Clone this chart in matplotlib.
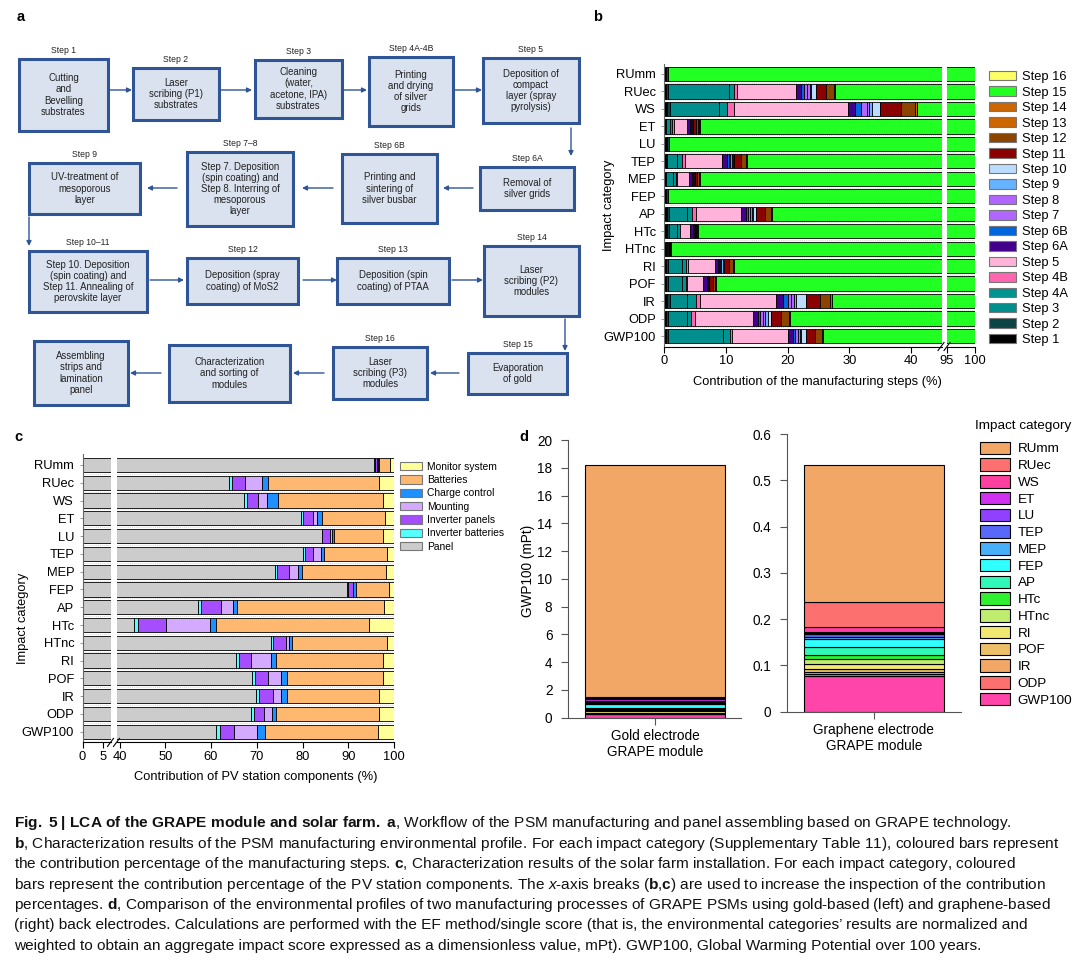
import numpy as np
import matplotlib
matplotlib.use("Agg")
import matplotlib.pyplot as plt
from matplotlib.patches import Rectangle, Patch

plt.rcParams['font.family'] = ['Liberation Sans', 'DejaVu Sans']
plt.rcParams['mathtext.fontset'] = 'custom'
plt.rcParams['mathtext.rm'] = 'Liberation Sans'
plt.rcParams['mathtext.it'] = 'Liberation Sans:italic'
plt.rcParams['mathtext.bf'] = 'Liberation Sans:bold'

W, H = 1080, 969

# -----------------------------------------------------------------------------------
#			DATA
# -----------------------------------------------------------------------------------
categories = ['RUmm', 'RUec', 'WS', 'ET', 'LU', 'TEP', 'MEP', 'FEP', 'AP',
              'HTc', 'HTnc', 'RI', 'POF', 'IR', 'ODP', 'GWP100']

# panel b : contribution of manufacturing steps (%)
steps = ['Step 1', 'Step 2', 'Step 3', 'Step 4A', 'Step 4B', 'Step 5', 'Step 6A',
         'Step 6B', 'Step 7', 'Step 8', 'Step 9', 'Step 10', 'Step 11', 'Step 12',
         'Step 13', 'Step 14', 'Step 15', 'Step 16']
b_RUmm = [0.3, 0.3, 0, 0, 0, 0, 0, 0, 0, 0, 0, 0, 0, 0, 0, 0, 99.4, 0]
b_RUec = [0.3, 0.35, 9.8, 0.8, 0.55, 9.6, 0.8, 0.5, 0.45, 0.45, 0.2, 0.85, 1.6, 1.2, 0.15, 0.15, 72.25, 0]
b_WS = [0.5, 0.5, 7.9, 1.35, 1.1, 18.5, 1.1, 1.0, 0.9, 0.3, 0.5, 1.35, 3.35, 2.3, 0.25, 0.05, 59.05, 0]
b_ET = [0.3, 0.1, 0.55, 0.4, 0.2, 2.15, 0.5, 0.1, 0.1, 0.1, 0.05, 0.1, 0.5, 0.4, 0.1, 0.1, 94.25, 0]
b_LU = [0.5, 0.3, 0, 0, 0, 0, 0, 0, 0, 0, 0, 0, 0, 0, 0, 0, 99.2, 0]
b_TEP = [0.3, 0.2, 1.6, 0.85, 0.45, 5.95, 0.85, 0.3, 0.25, 0.25, 0.2, 0.2, 1.0, 0.8, 0.15, 0.05, 86.6, 0]
b_MEP = [0.25, 0.15, 1.1, 0.5, 0.15, 1.9, 0.45, 0.1, 0.1, 0.1, 0.05, 0.1, 0.4, 0.3, 0.1, 0.1, 94.15, 0]
b_FEP = [0.3, 0.3, 0, 0, 0, 0, 0, 0, 0, 0, 0, 0, 0, 0, 0, 0, 99.4, 0]
b_AP = [0.5, 0.35, 2.8, 0.95, 0.5, 7.4, 0.8, 0.3, 0.3, 0.3, 0.2, 0.55, 1.4, 0.9, 0.2, 0.05, 82.5, 0]
b_HTc = [0.45, 0.3, 1.4, 0.4, 0.1, 1.6, 0.4, 0.1, 0.05, 0.05, 0.05, 0.05, 0.3, 0.15, 0.1, 0.05, 94.45, 0]
b_HTnc = [0.3, 0.2, 0.15, 0.05, 0, 0.15, 0.05, 0, 0, 0, 0, 0, 0.15, 0.05, 0, 0, 98.9, 0]
b_RI = [0.35, 0.25, 2.35, 0.6, 0.35, 4.3, 0.55, 0.15, 0.2, 0.2, 0.2, 0.25, 0.8, 0.55, 0.15, 0.05, 88.7, 0]
b_POF = [0.35, 0.25, 2.35, 0.6, 0.2, 2.5, 0.65, 0.1, 0.1, 0.1, 0.05, 0.1, 0.6, 0.3, 0.1, 0.05, 91.6, 0]
b_IR = [0.55, 0.4, 2.8, 1.35, 0.7, 12.35, 1.1, 0.8, 0.55, 0.4, 0.4, 1.6, 2.25, 1.6, 0.3, 0.05, 72.8, 0]
b_ODP = [0.4, 0.3, 2.95, 0.8, 0.6, 9.35, 0.8, 0.4, 0.4, 0.4, 0.4, 0.55, 1.6, 1.25, 0.2, 0.05, 79.55, 0]
b_GWP100 = [0.4, 0.3, 8.85, 1.1, 0.4, 9.0, 0.8, 0.4, 0.4, 0.3, 0.3, 0.7, 1.45, 1.1, 0.25, 0.05, 74.2, 0]

# panel c : contribution of PV station components (%)
components = ['Panel', 'Inverter batteries', 'Inverter panels', 'Mounting',
              'Charge control', 'Batteries', 'Monitor system']
c_RUmm = [95.7, 0.1, 0.5, 0.2, 0.3, 2.4, 0.8]
c_RUec = [63.9, 0.7, 2.9, 3.65, 1.3, 24.35, 3.2]
c_WS = [67.3, 0.6, 2.35, 2.0, 2.4, 23.0, 2.35]
c_ET = [79.6, 0.6, 2.05, 1.0, 0.95, 13.9, 1.9]
c_LU = [84.15, 0.15, 1.6, 0.5, 0.5, 10.6, 2.5]
c_TEP = [80.0, 0.45, 1.8, 1.75, 0.75, 13.75, 1.5]
c_MEP = [73.9, 0.6, 2.5, 2.1, 0.75, 18.3, 1.85]
c_FEP = [89.65, 0.4, 0.9, 0.1, 0.6, 7.35, 1.0]
c_AP = [57.15, 0.75, 4.25, 2.55, 1.0, 32.1, 2.2]
c_HTc = [43.05, 0.9, 6.1, 9.8, 1.3, 33.4, 5.45]
c_HTnc = [73.0, 0.45, 2.9, 0.75, 0.7, 20.6, 1.6]
c_RI = [65.4, 0.7, 2.7, 4.4, 0.95, 23.5, 2.35]
c_POF = [68.85, 0.7, 2.9, 2.8, 1.4, 21.0, 2.35]
c_IR = [69.8, 0.7, 3.05, 1.7, 1.4, 20.1, 3.25]
c_ODP = [68.7, 0.7, 2.2, 1.8, 0.9, 22.4, 3.3]
c_GWP100 = [61.0, 0.95, 3.05, 5.1, 1.7, 24.7, 3.5]

# panel d : single score (mPt), stacked from the bottom
d_categories = ['GWP100', 'ODP', 'IR', 'POF', 'RI', 'HTnc', 'HTc', 'AP', 'FEP',
                'MEP', 'TEP', 'LU', 'ET', 'WS', 'RUec', 'RUmm']
d_gold = [0.24, 0.03, 0.04, 0.06, 0.08, 0.08, 0.07, 0.10, 0.30, 0.06, 0.05,
          0.12, 0.10, 0.06, 0.13, 16.71]
d_graphene = [0.078, 0.003, 0.004, 0.007, 0.011, 0.010, 0.009, 0.018, 0.017,
              0.005, 0.005, 0.003, 0.003, 0.009, 0.054, 0.298]
d_modules = ['Gold electrode\nGRAPE module', 'Graphene electrode\nGRAPE module']

# panel a : workflow
flow_labels = ['Step 1', 'Step 2', 'Step 3', 'Step 4A-4B', 'Step 5', 'Step 6A',
               'Step 6B', 'Step 7\u20138', 'Step 9', 'Step 10\u201311', 'Step 12',
               'Step 13', 'Step 14', 'Step 15', 'Step 16', '', '']
flow_texts = ['Cutting\nand\nBevelling\nsubstrates',
              'Laser\nscribing (P1)\nsubstrates',
              'Cleaning\n(water,\nacetone, IPA)\nsubstrates',
              'Printing\nand drying\nof silver\ngrids',
              'Deposition of\ncompact\nlayer (spray\npyrolysis)',
              'Removal of\nsilver grids',
              'Printing and\nsintering of\nsilver busbar',
              'Step 7. Deposition\n(spin coating) and\nStep 8. Interring of\nmesoporous\nlayer',
              'UV-treatment of\nmesoporous\nlayer',
              'Step 10. Deposition\n(spin coating) and\nStep 11. Annealing of\nperovskite layer',
              'Deposition (spray\ncoating) of MoS2',
              'Deposition (spin\ncoating) of PTAA',
              'Laser\nscribing (P2)\nmodules',
              'Evaporation\nof gold',
              'Laser\nscribing (P3)\nmodules',
              'Characterization\nand sorting of\nmodules',
              'Assembling\nstrips and\nlamination\npanel']

# -----------------------------------------------------------------------------------
#			STYLE / LAYOUT
# -----------------------------------------------------------------------------------
step_colors = ['#000000', '#0b4444', '#008f8c', '#009490', '#ff66b0', '#ffb3da',
               '#42008c', '#0066dd', '#b166ff', '#b166ff', '#66b3ff', '#bcdcff',
               '#8b0000', '#8b4500', '#cc6600', '#cc6600', '#22ff22', '#ffff66']
comp_colors = ['#cccccc', '#55ffff', '#a64dff', '#d4aaff', '#1e90ff', '#ffb870', '#ffff99']
d_colors = ['#ff44aa', '#fd7070', '#f2a766', '#ecc068', '#f0e870', '#c0ec70', '#30f030',
            '#30f8b8', '#30ffff', '#48b0f8', '#5868f8', '#9040ff', '#d030f0', '#ff40a0',
            '#fd7070', '#f2a766']

flow_boxes = [(19, 59, 108, 131), (133, 68, 219, 120), (255, 60, 342, 118),
              (369, 57, 453, 126), (483, 58, 579, 123), (480, 167, 574, 210),
              (342, 154, 437, 223), (187, 152, 293, 226), (29, 163, 140, 214),
              (29, 251, 147, 312), (187, 258, 298, 304), (337, 258, 449, 304),
              (484, 246, 579, 316), (468, 353, 567, 394), (333, 347, 427, 399),
              (169, 345, 290, 402), (34, 341, 128, 405)]
flow_arrows = [(109, 90, 132, 90), (221, 90, 252, 90), (343, 90, 367, 90),
               (454, 90, 482, 90), (571, 128, 571, 156), (473, 188, 443, 188),
               (333, 188, 302, 188), (177, 188, 147, 188), (29, 217, 29, 246),
               (150, 280, 184, 280), (303, 280, 337, 280), (452, 280, 483, 280),
               (565, 319, 565, 351), (459, 373, 430, 373), (324, 373, 293, 373),
               (161, 373, 130, 373)]
blue = '#2f5597'


def px_rect(x0, y0, x1, y1):
    return [x0 / W, 1 - y1 / H, (x1 - x0) / W, (y1 - y0) / H]


fig = plt.figure(figsize=(W / 100, H / 100), dpi=100)

# overlay in pixel coordinates for the workflow, labels, caption
ov = fig.add_axes([0, 0, 1, 1], zorder=10)
ov.set_xlim(0, W)
ov.set_ylim(H, 0)
ov.axis('off')

# -------------------- a --------------------
for lab, txt, (x0, y0, x1, y1) in zip(flow_labels, flow_texts, flow_boxes):
    ov.add_patch(Rectangle((x0, y0), x1 - x0, y1 - y0, facecolor='#d9e2ee',
                           edgecolor=blue, lw=2.2))
    ov.text((x0 + x1) / 2, (y0 + y1) / 2, txt, ha='center', va='center',
            fontsize=6.9, color='#222222', linespacing=1.15)
    if lab:
        ov.text((x0 + x1) / 2, y0 - 8.5, lab, ha='center', va='center',
                fontsize=6.2, color='#222222')
for (x0, y0, x1, y1) in flow_arrows:
    ov.annotate('', xy=(x1, y1), xytext=(x0, y0),
                arrowprops=dict(arrowstyle='-|>', color=blue, lw=1.0,
                                mutation_scale=7, shrinkA=0, shrinkB=0))

# panel letters
for letter, x, y in [('a', 21, 17), ('b', 598, 17), ('c', 18, 437), ('d', 524, 437)]:
    ov.text(x, y, letter, ha='center', va='center', fontsize=10.5, fontweight='bold')

# -------------------- b, c --------------------
b_vals = np.array([b_RUmm, b_RUec, b_WS, b_ET, b_LU, b_TEP, b_MEP, b_FEP, b_AP,
                   b_HTc, b_HTnc, b_RI, b_POF, b_IR, b_ODP, b_GWP100])
c_vals = np.array([c_RUmm, c_RUec, c_WS, c_ET, c_LU, c_TEP, c_MEP, c_FEP, c_AP,
                   c_HTc, c_HTnc, c_RI, c_POF, c_IR, c_ODP, c_GWP100])
ypos = np.arange(len(categories))

axb1 = fig.add_axes(px_rect(664, 63.5, 942, 346.5))
axb2 = fig.add_axes(px_rect(947, 63.5, 974.5, 346.5))
axc1 = fig.add_axes(px_rect(82.5, 454.3, 111.3, 742.4))
axc2 = fig.add_axes(px_rect(117.3, 454.3, 394, 742.4))

for ax in [axb1, axb2]:
    left = np.zeros(len(categories))
    for j in range(len(steps)):
        ax.barh(ypos, b_vals[:, j], left=left, height=0.82, color=step_colors[j],
                edgecolor='black', lw=0.6, label=steps[j])
        left += b_vals[:, j]
for ax in [axc1, axc2]:
    left = np.zeros(len(categories))
    for j in range(len(components)):
        ax.barh(ypos, c_vals[:, j], left=left, height=0.8, color=comp_colors[j],
                edgecolor='black', lw=0.6, label=components[j])
        left += c_vals[:, j]

axb1.set_xlim(0, 45)
axb2.set_xlim(95, 100)
axc1.set_xlim(0, 7)
axc2.set_xlim(39.5, 100)
axb1.set_xticks([0, 10, 20, 30, 40])
axb2.set_xticks([95, 100])
axc1.set_xticks([0, 5])
axc2.set_xticks([40, 50, 60, 70, 80, 90, 100])

for ax in [axb1, axb2, axc1, axc2]:
    ax.set_ylim(15.6, -0.6)
    for yy in np.arange(0.5, 15, 1):
        ax.axhline(yy, color='#c8c8c8', lw=0.6, ls=(0, (1, 1.5)), zorder=0)
    ax.spines['top'].set_visible(False)
    ax.spines['right'].set_visible(False)
    ax.spines['bottom'].set_linewidth(0.8)
    ax.tick_params(axis='x', labelsize=9.3, length=4, width=0.8, pad=2)
    ax.set_facecolor('none')

for ax in [axb1, axc1]:
    ax.set_yticks(ypos)
    ax.set_yticklabels(categories)
    ax.tick_params(axis='y', labelsize=9.3, length=2, width=0.6, color='#888888', pad=4)
    ax.spines['left'].set_color('#666666')
    ax.spines['left'].set_linewidth(0.8)
for ax in [axb2, axc2]:
    ax.set_yticks([])
    ax.spines['left'].set_visible(False)

axb1.set_ylabel('Impact category', fontsize=9.3)
axb1.yaxis.set_label_coords(-0.178, 0.5)
axb1.set_xlabel('Contribution of the manufacturing steps (%)', fontsize=9.3)
axb1.xaxis.set_label_coords(0.552, -0.105)
axc1.set_ylabel('Impact category', fontsize=9.3)
axc1.yaxis.set_label_coords(-1.85, 0.43)
axc2.set_xlabel('Contribution of PV station components (%)', fontsize=9.3)
axc2.xaxis.set_label_coords(0.5, -0.1)

# axis breaks
for xb, yb in [(941, 346.5), (947, 346.5), (110.5, 742.4), (116.5, 742.4)]:
    ov.plot([xb - 3, xb + 3], [yb + 4, yb - 4], color='black', lw=0.8)

b_handles = [Patch(facecolor=c, edgecolor='#777777', lw=0.8) for c in step_colors]
fig.legend(b_handles[::-1], steps[::-1], loc='upper left',
           bbox_to_anchor=(989 / W, 1 - 71 / H), frameon=False, fontsize=9.3,
           handlelength=2.1, handleheight=0.75, labelspacing=0.25,
           handletextpad=0.45, borderpad=0, borderaxespad=0)

c_handles = [Patch(facecolor=c, edgecolor='#777777', lw=0.8) for c in comp_colors]
fig.legend(c_handles[::-1], components[::-1], loc='upper left',
           bbox_to_anchor=(399.5 / W, 1 - 461.5 / H), frameon=False, fontsize=7.4,
           handlelength=2.2, handleheight=0.87, labelspacing=0.33,
           handletextpad=0.5, borderpad=0, borderaxespad=0)

# -------------------- d --------------------
axd1 = fig.add_axes(px_rect(567.7, 440, 741.3, 717.7))
axd2 = fig.add_axes(px_rect(786.6, 434, 960.5, 711.7))
d_bars = []
for ax, vals in [(axd1, d_gold), (axd2, d_graphene)]:
    bottom = 0
    bars = []
    for k in range(len(d_categories)):
        bb = ax.bar(0, vals[k], bottom=bottom, width=1.0, color=d_colors[k],
                    edgecolor='black', lw=0.8, label=d_categories[k])
        bars.append(bb)
        bottom += vals[k]
    d_bars.append(bars)
axd1.set_xlim(-0.627, 0.614)
axd2.set_xlim(-0.625, 0.62)
axd1.set_ylim(0, 20)
axd1.set_yticks(np.arange(0, 21, 2))
axd2.set_ylim(0, 0.6)
axd2.set_yticks(np.arange(0, 0.61, 0.1))
axd2.set_yticklabels(['0', '0.1', '0.2', '0.3', '0.4', '0.5', '0.6'])
for ax, name in zip([axd1, axd2], d_modules):
    ax.set_xticks([0])
    ax.set_xticklabels([name])
    ax.spines['top'].set_visible(False)
    ax.spines['right'].set_visible(False)
    ax.spines['left'].set_color('#555555')
    ax.spines['bottom'].set_color('#555555')
    ax.tick_params(labelsize=9.8, length=5, width=0.8, color='#555555')
    ax.tick_params(axis='y', pad=6)
    ax.tick_params(axis='x', pad=3)
axd1.set_ylabel('GWP100 (mPt)', fontsize=9.8)
axd1.yaxis.set_label_coords(-0.19, 0.53)

fig.legend([b[0] for b in d_bars[1]][::-1], d_categories[::-1], loc='upper left',
           bbox_to_anchor=(980 / W, 1 - 441.5 / H), frameon=False, fontsize=9.7,
           handlelength=2.2, handleheight=1.07, labelspacing=0.21,
           handletextpad=0.6, borderpad=0, borderaxespad=0)
ov.text(1023, 426.5, 'Impact category', ha='center', va='center', fontsize=9.7)

# -------------------- caption --------------------
caption = [
    r"$\mathbf{Fig.\ 5\ |\ LCA\ of\ the\ GRAPE\ module\ and\ solar\ farm.\ a}$, Workflow of the PSM manufacturing and panel assembling based on GRAPE technology.",
    r"$\mathbf{b}$, Characterization results of the PSM manufacturing environmental profile. For each impact category (Supplementary Table 11), coloured bars represent",
    r"the contribution percentage of the manufacturing steps. $\mathbf{c}$, Characterization results of the solar farm installation. For each impact category, coloured",
    r"bars represent the contribution percentage of the PV station components. The $\mathit{x}$-axis breaks ($\mathbf{b}$,$\mathbf{c}$) are used to increase the inspection of the contribution",
    r"percentages. $\mathbf{d}$, Comparison of the environmental profiles of two manufacturing processes of GRAPE PSMs using gold-based (left) and graphene-based",
    "(right) back electrodes. Calculations are performed with the EF method/single score (that is, the environmental categories\u2019 results are normalized and",
    "weighted to obtain an aggregate impact score expressed as a dimensionless value, mPt). GWP100, Global Warming Potential over 100 years.",
]
for i, line in enumerate(caption):
    ov.text(14, 822.5 + i * 20.4 + 5, line, ha='left', va='baseline',
            fontsize=11.1, color='#111111')

fig.savefig('out.png', dpi=100)
